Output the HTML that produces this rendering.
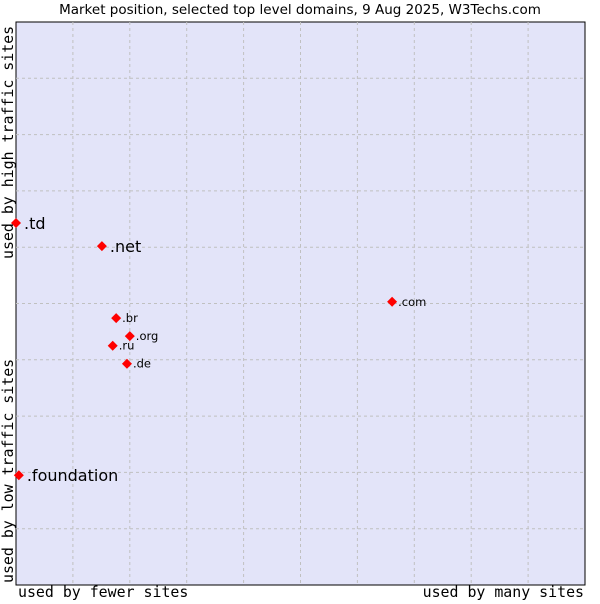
<!DOCTYPE html>
<html><head><meta charset="utf-8"><style>
body{margin:0;background:#fff;width:600px;height:600px;overflow:hidden;font-family:"DejaVu Sans",sans-serif}
</style></head><body>
<svg width="600" height="600" id="c">
<text x="300" y="14" text-anchor="middle" font-size="13.5" font-family="DejaVu Sans, sans-serif">Market position, selected top level domains, 9 Aug 2025, W3Techs.com</text>
<rect x="16" y="22" width="569" height="563" fill="#e3e4f9" stroke="#000" stroke-width="1"/>
<g id="grid"></g>
<g id="pts"></g>
<text x="18" y="597" font-size="14.9" font-family="DejaVu Sans Mono, monospace">used by fewer sites</text>
<text x="584" y="597" text-anchor="end" font-size="14.9" font-family="DejaVu Sans Mono, monospace">used by many sites</text>
<text transform="translate(13,583) rotate(-90)" font-size="14.9" font-family="DejaVu Sans Mono, monospace">used by low traffic sites</text>
<text transform="translate(13,259) rotate(-90)" font-size="14.9" font-family="DejaVu Sans Mono, monospace">used by high traffic sites</text>
</svg>
<script>
const labels=[".td",".net",".com",".br",".org",".ru",".de",".foundation"];
const xVals=[0,15.1,66.1,17.6,20.0,17.0,19.5,0.5];
const yVals=[64.3,60.2,50.3,47.4,44.2,42.5,39.3,19.5];
const big=[1,1,0,0,0,0,0,1];
const L=16,T=22,W=569,H=563,ns="http://www.w3.org/2000/svg";
const sx=v=>L+v/100*W, sy=v=>T+H-v/100*H;
const g=document.getElementById('grid'),p=document.getElementById('pts');
for(let i=1;i<10;i++){
 const a=document.createElementNS(ns,'line');
 
 
 const x=sx(i*10);a.setAttribute('x1',x);a.setAttribute('x2',x);a.setAttribute('y1',T);a.setAttribute('y2',T+H);
 a.setAttribute('stroke','#c0c0c0');a.setAttribute('stroke-dasharray','3,3');g.appendChild(a);
 const b=document.createElementNS(ns,'line');
 
 
 const y=sy(i*10);b.setAttribute('y1',y);b.setAttribute('y2',y);b.setAttribute('x1',L);b.setAttribute('x2',L+W);
 b.setAttribute('stroke','#c0c0c0');b.setAttribute('stroke-dasharray','3,3');g.appendChild(b);
}
labels.forEach((l,i)=>{
 const x=sx(xVals[i]),y=sy(yVals[i]);
 const d=document.createElementNS(ns,'path');
 
 
 d.setAttribute('d',`M${x-5},${y} L${x},${y-5} L${x+5},${y} L${x},${y+5}Z`);
 d.setAttribute('fill','#f00');p.appendChild(d);
 const t=document.createElementNS(ns,'text');
 
 
 t.setAttribute('x',x+(big[i]?8:6));t.setAttribute('y',y+(big[i]?6:4));
 t.setAttribute('font-size',big[i]?16:11.5);t.textContent=l;p.appendChild(t);
});
</script>
</body></html>
